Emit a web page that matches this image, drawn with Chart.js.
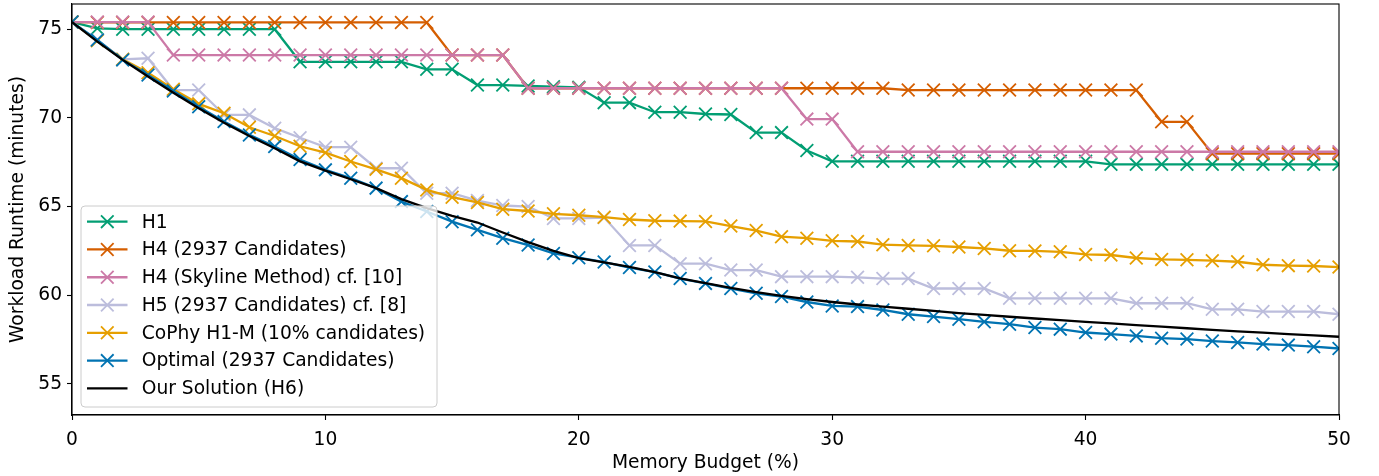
<!DOCTYPE html>
<html>
<head>
<meta charset="utf-8">
<script src="https://cdn.jsdelivr.net/npm/chart.js@4/dist/chart.umd.min.js"></script>
<style>
  html, body { margin: 0; padding: 0; background: #fff; }
  #wrap { width: 1379px; height: 476px; position: relative; }
</style>
</head>
<body>
<div id="wrap"><canvas id="c" width="1379" height="476"></canvas></div>
<script>
const budget = [0,1,2,3,4,5,6,7,8,9,10,11,12,13,14,15,16,17,18,19,20,21,22,23,24,25,26,27,28,29,30,31,32,33,34,35,36,37,38,39,40,41,42,43,44,45,46,47,48,49,50];

const h1 = [75.4,75.05,75.0,75.0,75.0,75.0,75.0,75.0,75.0,73.16,73.16,73.16,73.16,73.16,72.74,72.74,71.85,71.85,71.8,71.76,71.72,70.86,70.86,70.32,70.32,70.22,70.19,69.17,69.17,68.16,67.55,67.55,67.55,67.55,67.55,67.55,67.55,67.55,67.55,67.55,67.55,67.38,67.38,67.38,67.38,67.38,67.38,67.38,67.38,67.38,67.38];

const h4 = [75.4,75.38,75.38,75.38,75.38,75.38,75.38,75.38,75.38,75.38,75.38,75.38,75.38,75.38,75.38,73.54,73.54,73.54,71.67,71.67,71.67,71.67,71.67,71.67,71.67,71.67,71.67,71.67,71.67,71.67,71.67,71.67,71.67,71.57,71.57,71.57,71.57,71.57,71.57,71.57,71.57,71.57,71.57,69.78,69.78,67.98,67.98,67.98,67.98,67.98,67.98];

const h4Skyline = [75.4,75.4,75.4,75.4,73.54,73.54,73.54,73.54,73.54,73.54,73.54,73.54,73.54,73.54,73.54,73.54,73.54,73.54,71.67,71.67,71.67,71.67,71.67,71.67,71.67,71.67,71.67,71.67,71.67,69.93,69.93,68.09,68.09,68.09,68.09,68.09,68.09,68.09,68.09,68.09,68.09,68.09,68.09,68.09,68.09,68.09,68.09,68.09,68.09,68.09,68.09];

const h5 = [75.4,74.4,73.3,73.36,71.57,71.57,70.17,70.17,69.42,68.88,68.35,68.35,67.16,67.16,65.75,65.75,65.34,65.06,65.0,64.33,64.33,64.38,62.81,62.81,61.78,61.78,61.42,61.42,61.05,61.05,61.05,61.01,60.94,60.94,60.38,60.38,60.38,59.83,59.83,59.83,59.83,59.83,59.55,59.55,59.55,59.21,59.21,59.08,59.08,59.08,58.93];

const cophy = [75.4,74.35,73.3,72.55,71.61,70.79,70.26,69.47,68.98,68.4,68.04,67.54,67.1,66.6,65.94,65.53,65.23,64.85,64.75,64.59,64.51,64.4,64.27,64.2,64.18,64.16,63.9,63.65,63.3,63.22,63.07,63.03,62.85,62.81,62.79,62.72,62.64,62.51,62.5,62.45,62.3,62.27,62.1,62.02,62.0,61.95,61.89,61.72,61.67,61.65,61.59];

const optimal = [75.4,74.39,73.27,72.42,71.52,70.63,69.79,69.04,68.38,67.65,67.07,66.6,66.04,65.28,64.72,64.15,63.69,63.22,62.83,62.36,62.12,61.87,61.56,61.31,60.94,60.67,60.38,60.11,59.93,59.62,59.4,59.36,59.17,58.93,58.8,58.65,58.5,58.37,58.18,58.09,57.9,57.81,57.71,57.58,57.53,57.42,57.34,57.25,57.19,57.1,57.0];

const ours = [75.4,74.3,73.27,72.33,71.42,70.54,69.73,68.98,68.29,67.55,67.03,66.54,66.04,65.42,64.91,64.48,64.1,63.54,63.0,62.5,62.1,61.85,61.6,61.3,60.95,60.68,60.42,60.18,59.97,59.78,59.62,59.48,59.36,59.24,59.12,58.99,58.89,58.79,58.69,58.6,58.5,58.41,58.32,58.23,58.14,58.05,57.97,57.89,57.81,57.74,57.66];

const seriesLabels = ["H1","H4 (2937 Candidates)","H4 (Skyline Method) cf. [10]","H5 (2937 Candidates) cf. [8]","CoPhy H1-M (10% candidates)","Optimal (2937 Candidates)","Our Solution (H6)"];
const seriesColors = ["#029e73","#d55e00","#cc79a7","#bcbddc","#e69f00","#0173b2","#000000"];
const seriesMarkers = [true,true,true,true,true,true,false];
const seriesValues = [h1,h4,h4Skyline,h5,cophy,optimal,ours];

const xTicks = [0,10,20,30,40,50];
const yTicks = [55,60,65,70,75];
const xTitle = "Memory Budget (%)";
const yTitle = "Workload Runtime (minutes)";

const FONT = "'DejaVu Sans', sans-serif";
const FS = 18.67;

// target plot rectangle (pixels)
const AREA = { left: 72, top: 4, right: 1339, bottom: 415 };

const datasets = seriesValues.map((vals, i) => ({
  label: seriesLabels[i],
  data: vals.map((v, j) => ({x: budget[j], y: v})),
  borderColor: seriesColors[i],
  backgroundColor: seriesColors[i],
  borderWidth: 2.3,
  pointStyle: 'crossRot',
  pointRadius: seriesMarkers[i] ? 9 : 0,
  pointHoverRadius: seriesMarkers[i] ? 9 : 0,
  pointBorderWidth: 1.8,
  pointBorderColor: seriesColors[i],
  tension: 0,
  fill: false,
  order: seriesValues.length - i
}));

const areaPlugin = {
  id: 'fixedArea',
  afterLayout(chart) {
    const W = chart.width, H = chart.height;
    const ca = chart.chartArea;
    ca.left = AREA.left; ca.top = AREA.top; ca.right = AREA.right; ca.bottom = AREA.bottom;
    ca.width = AREA.right - AREA.left; ca.height = AREA.bottom - AREA.top;
    const x = chart.scales.x, y = chart.scales.y;
    x.left = AREA.left; x.right = AREA.right; x.width = AREA.right - AREA.left;
    x.top = AREA.bottom; x.bottom = H; x.height = H - AREA.bottom;
    y.left = 0; y.right = AREA.left; y.width = AREA.left;
    y.top = AREA.top; y.bottom = AREA.bottom; y.height = AREA.bottom - AREA.top;
    x.configure(); y.configure();
  }
};

const framePlugin = {
  id: 'frame',
  afterDraw(chart) {
    const {ctx, chartArea: a} = chart;
    ctx.save();
    ctx.strokeStyle = '#000';
    ctx.lineWidth = 1.1;
    ctx.strokeRect(a.left, a.top, a.right - a.left, a.bottom - a.top);
    ctx.restore();
  }
};

const legendPlugin = {
  id: 'mplLegend',
  afterDraw(chart) {
    const ctx = chart.ctx;
    const bx = 81, by = 206, bw = 356, bh = 201, r = 4;
    ctx.save();
    ctx.beginPath();
    ctx.moveTo(bx + r, by);
    ctx.lineTo(bx + bw - r, by);
    ctx.quadraticCurveTo(bx + bw, by, bx + bw, by + r);
    ctx.lineTo(bx + bw, by + bh - r);
    ctx.quadraticCurveTo(bx + bw, by + bh, bx + bw - r, by + bh);
    ctx.lineTo(bx + r, by + bh);
    ctx.quadraticCurveTo(bx, by + bh, bx, by + bh - r);
    ctx.lineTo(bx, by + r);
    ctx.quadraticCurveTo(bx, by, bx + r, by);
    ctx.closePath();
    ctx.fillStyle = 'rgba(255,255,255,0.8)';
    ctx.fill();
    ctx.strokeStyle = '#cccccc';
    ctx.lineWidth = 1;
    ctx.stroke();
    ctx.font = FS + 'px ' + FONT;
    ctx.textBaseline = 'middle';
    ctx.textAlign = 'left';
    seriesLabels.forEach((lab, i) => {
      const y = 221.7 + i * 27.77;
      ctx.strokeStyle = seriesColors[i];
      ctx.lineWidth = 2.3;
      ctx.beginPath();
      ctx.moveTo(87, y);
      ctx.lineTo(127.5, y);
      ctx.stroke();
      if (seriesMarkers[i]) {
        const d = 6.3;
        ctx.lineWidth = 1.8;
        ctx.beginPath();
        ctx.moveTo(107.3 - d, y - d); ctx.lineTo(107.3 + d, y + d);
        ctx.moveTo(107.3 - d, y + d); ctx.lineTo(107.3 + d, y - d);
        ctx.stroke();
      }
      ctx.fillStyle = '#000';
      ctx.fillText(lab, 141.7, y + 1);
    });
    ctx.restore();
  }
};

new Chart(document.getElementById('c'), {
  type: 'line',
  data: { datasets },
  options: {
    responsive: false,
    animation: false,
    devicePixelRatio: 1,
    layout: { padding: { left: 0, right: 40, top: 4, bottom: 0 } },
    plugins: { legend: { display: false }, tooltip: { enabled: false } },
    scales: {
      x: {
        type: 'linear',
        min: 0, max: 50,
        afterBuildTicks: s => { s.ticks = xTicks.map(v => ({value: v})); },
        afterFit: s => { s.height = 61; },
        grid: { drawOnChartArea: false, drawTicks: true, tickLength: 5, tickColor: '#000', tickWidth: 1.1 },
        border: { display: true, color: '#000', width: 1.1 },
        ticks: { color: '#000', font: { family: FONT, size: FS }, padding: 9, maxRotation: 0 },
        title: { display: true, text: xTitle, color: '#000', font: { family: FONT, size: FS }, padding: { top: 0, bottom: 2 } }
      },
      y: {
        type: 'linear',
        min: 53.25, max: 76.42,
        afterBuildTicks: s => { s.ticks = yTicks.map(v => ({value: v})); },
        afterFit: s => { s.width = 72; },
        grid: { drawOnChartArea: false, drawTicks: true, tickLength: 5, tickColor: '#000', tickWidth: 1.1 },
        border: { display: true, color: '#000', width: 1.1 },
        ticks: { color: '#000', font: { family: FONT, size: FS }, padding: 5 },
        title: { display: true, text: yTitle, color: '#000', font: { family: FONT, size: FS }, padding: { top: 7, bottom: 0 } }
      }
    }
  },
  plugins: [areaPlugin, framePlugin, legendPlugin]
});
</script>
</body>
</html>
